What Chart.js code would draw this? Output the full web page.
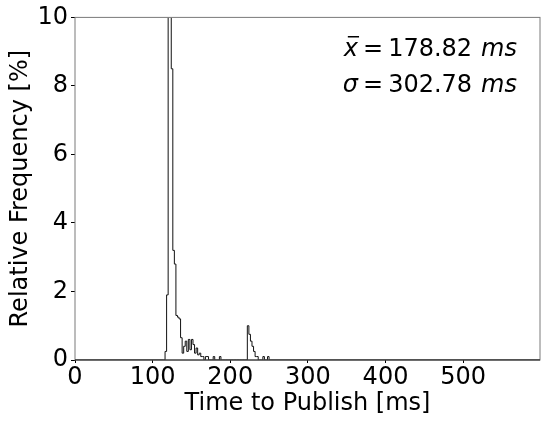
<!DOCTYPE html>
<html>
<head>
<meta charset="utf-8">
<script src="https://cdn.jsdelivr.net/npm/chart.js@4/dist/chart.umd.min.js"></script>
<style>
  html, body { margin: 0; padding: 0; background: #fff; }
  #wrap { width: 548px; height: 421px; }
</style>
</head>
<body>
<div id="wrap"><canvas id="histChart" width="548" height="421"></canvas></div>
<script>
// histogram bins (left edge, ms) and relative frequency (%)
const binStarts = [114, 116, 118, 120, 122, 124, 126, 128, 130, 132, 134, 136, 138, 140, 142, 144, 146, 148,
  150, 152, 154, 156, 158, 160, 162, 164, 166, 168, 170, 172, 174, 176, 178, 180, 182, 184, 186, 188,
  190, 192, 194, 196, 198, 200, 202, 204, 206, 208, 210, 212, 214, 216, 218, 220, 222, 224, 226, 228,
  230, 232, 234, 236, 238, 240, 242, 244, 246, 248, 250];
const freqs = [0, 0.25, 1.9, 12, 12, 8.5, 3.2, 2.8, 1.3, 1.25, 1.2, 0.65, 0.2, 0.4, 0.55, 0.25, 0.6, 0.3,
  0.6, 0.45, 0.2, 0.35, 0.15, 0.2, 0.1, 0.1, 0, 0.1, 0.1, 0, 0, 0, 0.1, 0, 0, 0, 0.1, 0,
  0, 0, 0, 0, 0, 0, 0, 0, 0, 0, 0, 0, 0, 0, 0, 0, 1.0, 0.75, 0.55, 0.4,
  0.25, 0.1, 0.1, 0, 0, 0, 0.1, 0, 0, 0.1, 0];
const xTicks = [0, 100, 200, 300, 400, 500];
const yTicks = [0, 2, 4, 6, 8, 10];
const xMax = 599;
const meanText = '178.82';
const sigmaText = '302.78';

const FONT = '"DejaVu Sans", sans-serif';

// step outline: run along zero from 0, through the bins, back to zero up to the x limit
const points = [{x: 0, y: 0}];
binStarts.forEach((b, i) => points.push({x: b, y: freqs[i]}));
points.push({x: xMax, y: 0});

// matplotlib-like frame around the axes
const framePlugin = {
  id: 'frame',
  afterDraw(chart) {
    const {ctx, chartArea: a} = chart;
    ctx.save();
    ctx.lineWidth = 1;
    ctx.strokeStyle = '#7a7a7a';
    ctx.strokeRect(a.left, a.top, a.right - a.left, a.bottom - a.top);
    ctx.strokeStyle = '#222';
    ctx.beginPath();
    ctx.moveTo(a.left, a.bottom);
    ctx.lineTo(a.right, a.bottom);
    ctx.stroke();
    ctx.restore();
  }
};

// mean / sigma annotation in the top right corner
const statsPlugin = {
  id: 'stats',
  afterDraw(chart) {
    const {ctx} = chart;
    const rightX = 517;
    const rows = [
      {sym: 'x', val: meanText, y: 56, bar: true},
      {sym: 'σ', val: sigmaText, y: 92, bar: false}
    ];
    ctx.save();
    ctx.fillStyle = '#000';
    ctx.textBaseline = 'alphabetic';
    rows.forEach(r => {
      const it = 'italic 24px ' + FONT;
      const up = '24px ' + FONT;
      ctx.font = it;
      const wMs = ctx.measureText('ms').width;
      const wSym = ctx.measureText(r.sym).width;
      ctx.font = up;
      const wVal = ctx.measureText(r.val).width;
      const wEq = ctx.measureText('=').width;
      let x = rightX - wMs;
      ctx.font = it;
      ctx.fillText('ms', x, r.y);
      x -= 9 + wVal;
      ctx.font = up;
      ctx.fillText(r.val, x, r.y);
      x -= 5 + wEq;
      ctx.fillText('=', x, r.y);
      x -= 5 + wSym;
      ctx.font = it;
      ctx.fillText(r.sym, x, r.y);
      if (r.bar) {
        ctx.fillRect(x + 4, r.y - 20, wSym - 3, 1.5);
      }
    });
    ctx.restore();
  }
};

const ctx = document.getElementById('histChart').getContext('2d');
new Chart(ctx, {
  type: 'line',
  data: {
    datasets: [{
      data: points,
      borderColor: '#111',
      borderWidth: 1,
      pointRadius: 0,
      stepped: 'before',
      fill: false,
      tension: 0
    }]
  },
  options: {
    responsive: false,
    animation: false,
    layout: { padding: { top: 14, right: 8, left: 0, bottom: 0 } },
    plugins: { legend: { display: false }, tooltip: { enabled: false } },
    scales: {
      x: {
        type: 'linear',
        min: 0,
        max: xMax,
        afterBuildTicks: s => { s.ticks = xTicks.map(v => ({value: v})); },
        afterFit: s => { s.height = 61; },
        grid: { drawOnChartArea: false, drawTicks: true, tickLength: 3, color: '#000' },
        border: { display: false },
        ticks: { color: '#000', font: { family: FONT, size: 24 }, padding: 0, maxRotation: 0 },
        title: { display: true, text: 'Time to Publish [ms]', color: '#000',
                 font: { family: FONT, size: 24 }, padding: { top: 0, bottom: 3 } }
      },
      y: {
        min: 0,
        max: 10,
        afterBuildTicks: s => { s.ticks = yTicks.map(v => ({value: v})); },
        afterFit: s => { s.width = 75; },
        grid: { drawOnChartArea: false, drawTicks: true, tickLength: 4, color: '#000' },
        border: { display: false },
        ticks: { color: '#000', font: { family: FONT, size: 24 }, padding: 3 },
        title: { display: true, text: 'Relative Frequency [%]', color: '#000',
                 font: { family: FONT, size: 24 }, padding: { top: 6, bottom: 0 } }
      }
    }
  },
  plugins: [framePlugin, statsPlugin]
});
</script>
</body>
</html>
